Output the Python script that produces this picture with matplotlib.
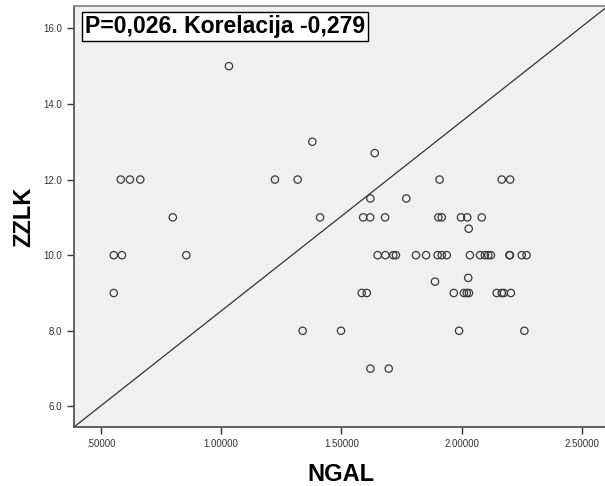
import matplotlib.pyplot as plt

# NGAL vs ZZLK values
ngal = [1.033, 1.379, 1.638,
        0.584, 0.622, 0.665, 1.224, 1.318, 1.907, 2.165, 2.200,
        1.620, 1.769,
        0.800, 1.411, 1.590, 1.619, 1.681, 1.902, 1.916, 1.996, 2.022, 2.082,
        2.028,
        0.555, 0.589, 0.856, 1.650, 1.682, 1.715, 1.726, 1.809, 1.851, 1.899,
        1.916, 1.937, 2.033, 2.075, 2.095, 2.109, 2.120, 2.197, 2.199, 2.248, 2.268,
        2.026, 1.888,
        0.555, 1.584, 1.605, 1.966, 2.008, 2.020, 2.029, 2.144, 2.165, 2.174, 2.203,
        1.339, 1.498, 1.988, 2.259,
        1.620, 1.696]
zzlk = [15, 13, 12.7,
        12, 12, 12, 12, 12, 12, 12, 12,
        11.5, 11.5,
        11, 11, 11, 11, 11, 11, 11, 11, 11, 11,
        10.7,
        10, 10, 10, 10, 10, 10, 10, 10, 10, 10,
        10, 10, 10, 10, 10, 10, 10, 10, 10, 10, 10,
        9.4, 9.3,
        9, 9, 9, 9, 9, 9, 9, 9, 9, 9, 9,
        8, 8, 8, 8,
        7, 7]

xticks = [0.5, 1.0, 1.5, 2.0, 2.5]
xtick_labels = ['.50000', '1.00000', '1.50000', '2.00000', '2.50000']
yticks = [6, 8, 10, 12, 14, 16]
ytick_labels = ['6.0', '8.0', '10.0', '12.0', '14.0', '16.0']

plt.rcParams['font.family'] = ['Liberation Sans', 'DejaVu Sans']

fig = plt.figure(figsize=(6.05, 4.86), dpi=100)
ax = fig.add_axes([74/605, 1 - 427/486, 534/605, 421/486])
ax.set_facecolor('#f0f0f0')

ax.scatter(ngal, zzlk, s=28, facecolors='none', edgecolors='#3a3a3a',
           linewidths=0.9, zorder=3)
# reference line across the plot
ax.plot([0, 1], [0, 1], transform=ax.transAxes, color='#333333', lw=0.9)

ax.set_xlim(0.390, 2.606)
ax.set_ylim(5.456, 16.59)
ax.set_xticks(xticks)
ax.set_xticklabels(xtick_labels)
ax.set_yticks(yticks)
ax.set_yticklabels(ytick_labels)
ax.tick_params(labelsize=7, colors='#333333', length=5, width=1, direction='out')

for side in ['left', 'bottom']:
    ax.spines[side].set_color('#555555')
    ax.spines[side].set_linewidth(1.3)
ax.spines['top'].set_color('#888888')
ax.spines['top'].set_linewidth(1.3)
ax.spines['right'].set_visible(False)

ax.set_xlabel('NGAL', fontsize=17, fontweight='bold', labelpad=10)
ax.set_ylabel('ZZLK', fontsize=17, fontweight='bold', va='center')
ax.yaxis.set_label_coords(-50/534, 0.5)

ax.text(0.020, 0.978, 'P=0,026. Korelacija -0,279', transform=ax.transAxes,
        fontsize=16.6, fontweight='bold', va='top', ha='left',
        bbox=dict(boxstyle='square,pad=0.12', facecolor='white',
                  edgecolor='black', linewidth=1))

fig.savefig('out.png', dpi=100)
